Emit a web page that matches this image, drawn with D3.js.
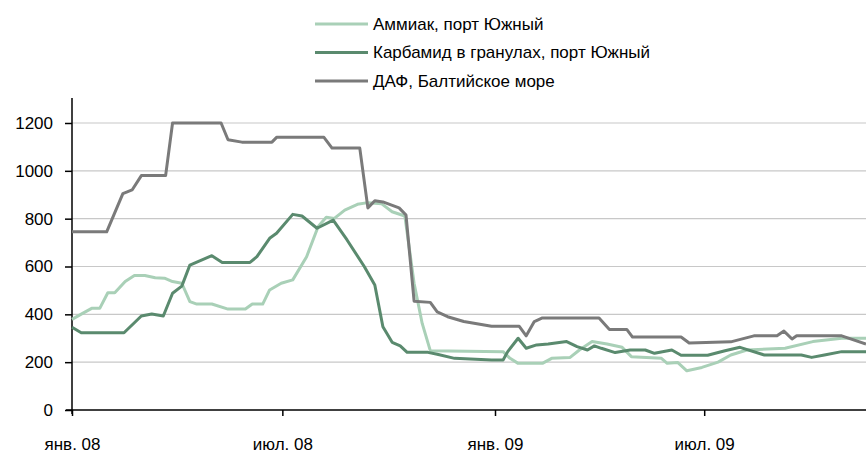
<!DOCTYPE html>
<html><head><meta charset="utf-8">
<script src="https://cdn.jsdelivr.net/npm/d3@7"></script>
<style>
html,body{margin:0;padding:0;background:#fff;overflow:hidden}
text{font-family:"Liberation Sans Narrow","Arial Narrow","Liberation Sans",Arial,sans-serif;fill:#000}
</style></head>
<body><svg id="c" width="866" height="455"></svg>
<script>
const seriesNames = ["Аммиак, порт Южный", "Карбамид в гранулах, порт Южный", "ДАФ, Балтийское море"];
const seriesColors = ["#a9d0b7", "#5a8a6e", "#7a7a7a"];

const ammoniaDates = ["2008-01-01","2008-01-09","2008-01-18","2008-01-25","2008-02-01","2008-02-07","2008-02-16","2008-02-24","2008-03-04","2008-03-13","2008-03-21","2008-03-28","2008-04-05","2008-04-12","2008-04-18","2008-05-01","2008-05-15","2008-05-30","2008-06-05","2008-06-14","2008-06-20","2008-06-30","2008-07-10","2008-07-22","2008-08-01","2008-08-08","2008-08-15","2008-08-24","2008-09-04","2008-09-13","2008-09-25","2008-10-04","2008-10-15","2008-10-23","2008-10-30","2008-11-06","2009-01-08","2009-01-14","2009-01-21","2009-02-11","2009-02-19","2009-03-07","2009-03-15","2009-03-26","2009-04-08","2009-04-21","2009-04-29","2009-05-25","2009-05-30","2009-06-08","2009-06-16","2009-06-29","2009-07-13","2009-07-24","2009-08-07","2009-09-09","2009-10-03","2009-10-28","2009-11-18"];
const ammoniaValues = [379,401,425,425,490,490,537,562,562,553,551,537,530,453,443,443,422,422,443,443,502,530,544,641,767,806,801,836,860,867,862,829,811,530,362,248,244,216,195,195,216,220,251,286,276,262,223,216,195,199,164,178,200,230,251,258,286,300,300];

const ureaDates = ["2008-01-01","2008-01-09","2008-02-15","2008-03-01","2008-03-10","2008-03-20","2008-03-28","2008-04-05","2008-04-12","2008-05-01","2008-05-10","2008-06-03","2008-06-09","2008-06-20","2008-06-26","2008-07-10","2008-07-18","2008-07-31","2008-08-14","2008-08-26","2008-09-10","2008-09-19","2008-09-26","2008-10-04","2008-10-11","2008-10-17","2008-11-04","2008-11-12","2008-11-27","2008-12-29","2009-01-08","2009-01-12","2009-01-21","2009-01-28","2009-02-06","2009-02-16","2009-03-04","2009-03-13","2009-03-22","2009-03-28","2009-04-03","2009-04-15","2009-04-28","2009-05-11","2009-05-19","2009-06-03","2009-06-11","2009-07-04","2009-07-19","2009-08-01","2009-08-22","2009-09-23","2009-10-02","2009-10-13","2009-10-28","2009-11-18"];
const ureaValues = [346,323,323,393,401,393,488,518,606,645,617,617,641,718,739,818,811,760,794,711,599,523,348,283,268,241,241,233,216,209,209,244,300,258,272,276,286,265,251,268,258,240,251,251,237,251,229,229,248,262,230,230,220,230,244,244];

const dapDates = ["2008-01-01","2008-01-31","2008-02-14","2008-02-22","2008-03-01","2008-03-22","2008-03-28","2008-05-09","2008-05-15","2008-05-27","2008-06-22","2008-06-26","2008-08-06","2008-08-13","2008-09-06","2008-09-13","2008-09-19","2008-09-26","2008-10-10","2008-10-16","2008-10-23","2008-11-06","2008-11-12","2008-11-21","2008-12-05","2008-12-29","2009-01-22","2009-01-28","2009-02-04","2009-02-11","2009-04-01","2009-04-10","2009-04-25","2009-04-30","2009-06-11","2009-06-18","2009-07-24","2009-08-13","2009-09-02","2009-09-08","2009-09-15","2009-09-19","2009-10-28","2009-11-18"];
const dapValues = [745,745,905,920,980,980,1200,1200,1130,1120,1120,1140,1140,1095,1095,845,875,870,845,815,455,450,410,390,370,350,350,310,370,385,385,337,337,305,305,280,285,310,310,330,297,310,310,276];

const yTicks = [0,200,400,600,800,1000,1200];
const xTickDates = ["2008-01-01","2008-07-01","2009-01-01","2009-07-01"];
const xTickLabels = ["янв. 08","июл. 08","янв. 09","июл. 09"];
const xDomain = ["2008-01-01","2009-11-18"];

const parse = d3.timeParse("%Y-%m-%d");
const svg = d3.select("#c");
const x = d3.scaleTime().domain(xDomain.map(parse)).range([72, 866]);
const y = d3.scaleLinear().domain([0, 1200]).range([410, 123]);

// grid
svg.append("g").selectAll("line").data(yTicks.filter(v => v > 0)).join("line")
  .attr("x1", 72).attr("x2", 866).attr("y1", d => y(d)).attr("y2", d => y(d))
  .attr("stroke", "#c8c8c8").attr("stroke-width", 1.2);

// y axis
const yAxis = d3.axisLeft(y).tickValues(yTicks).tickSize(7).tickPadding(12).tickFormat(d3.format("d"));
const gy = svg.append("g").attr("transform", "translate(72,0)").call(yAxis);
gy.select(".domain").remove();
gy.selectAll("text").attr("font-size", 17).attr("fill", "#000");
gy.selectAll("line").attr("stroke", "#000").attr("stroke-width", 1.5);
svg.append("line").attr("x1", 72).attr("x2", 72).attr("y1", 98).attr("y2", 414).attr("stroke", "#000").attr("stroke-width", 1.5);

// x axis
const xAxis = d3.axisBottom(x).tickValues(xTickDates.map(parse)).tickSize(6).tickPadding(22)
  .tickFormat((d, i) => xTickLabels[i]);
const gx = svg.append("g").attr("transform", "translate(0,410)").call(xAxis);
gx.select(".domain").remove();
gx.selectAll("text").attr("font-size", 17).attr("fill", "#000");
gx.selectAll("line").attr("stroke", "#000").attr("stroke-width", 1.5);
svg.append("line").attr("x1", 66).attr("x2", 866).attr("y1", 410).attr("y2", 410).attr("stroke", "#000").attr("stroke-width", 1.5);

// lines
const line = d3.line().x(d => x(d[0])).y(d => y(d[1]));
const series = [
  [ammoniaDates, ammoniaValues],
  [ureaDates, ureaValues],
  [dapDates, dapValues]
];
series.forEach((s, i) => {
  const pts = s[0].map((d, j) => [parse(d), s[1][j]]);
  svg.append("path").datum(pts).attr("d", line).attr("fill", "none")
    .attr("stroke", seriesColors[i]).attr("stroke-width", 3).attr("stroke-linejoin", "round");
});

// legend
const legY = [24, 52.5, 81];
seriesNames.forEach((n, i) => {
  svg.append("line").attr("x1", 315).attr("x2", 368).attr("y1", legY[i]).attr("y2", legY[i])
    .attr("stroke", seriesColors[i]).attr("stroke-width", 3);
  svg.append("text").attr("x", 373).attr("y", legY[i]).attr("dy", "0.35em").attr("font-size", 17).text(n);
});
</script></body></html>
